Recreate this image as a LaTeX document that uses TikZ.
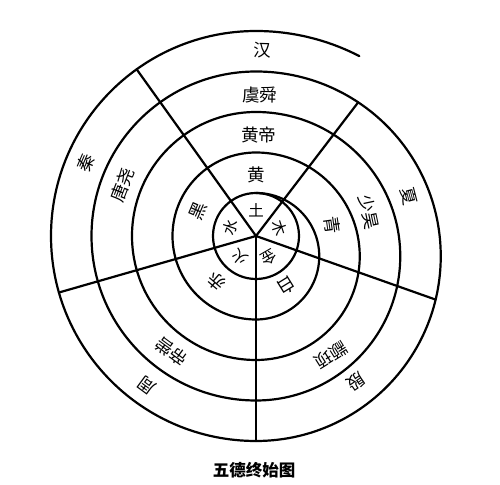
\documentclass[tikz,border=0pt]{standalone}
\usepackage{fontspec}
\newfontfamily\cjk{Noto Sans CJK SC}
\usetikzlibrary{calc}
\begin{document}
\begin{tikzpicture}[x=1pt,y=1pt,
  ring/.style={line width=2.2pt, line cap=round, line join=round},
  spoke/.style={line width=2.2pt, line cap=round},
  lab/.style={font=\cjk\fontsize{17.5}{17.5}\selectfont, inner sep=0pt},
  inlab/.style={font=\cjk\fontsize{15.5}{15.5}\selectfont, inner sep=0pt},
  captxt/.style={font=\cjk\bfseries\fontsize{16.5}{16.5}\selectfont, inner sep=0pt}]
\useasboundingbox (0,0) rectangle (500,484);
\fill[white] (0,0) rectangle (500,484);
\coordinate (O) at (256,248);
\coordinate (S) at (256,291);
% inner circle
\draw[ring] (O) circle[radius=43];
% two-centre spiral
\draw[ring] (S)
  arc[start angle=90,end angle=-90,radius=63.25]
  arc[start angle=270,end angle=90,radius=83.5]
  arc[start angle=90,end angle=-90,radius=103.75]
  arc[start angle=270,end angle=90,radius=124]
  arc[start angle=90,end angle=-90,radius=144.25]
  arc[start angle=270,end angle=90,radius=164.5]
  arc[start angle=90,end angle=-90,radius=184.75]
  arc[start angle=270,end angle=90,radius=205]
  arc[start angle=90,end angle=62.7,radius=225.25];
% spokes
\path (O) ++(52.6:168.2) coordinate (e1);
\path (O) ++(125.6:205) coordinate (e2);
\path (O) ++(196:205) coordinate (e3);
\path (O) ++(270:205) coordinate (e4);
\path (O) ++(-19.5:190.5) coordinate (e5);
\foreach \e in {e1,e2,e3,e4,e5} \draw[spoke] (O) -- (\e);
% inner ring: elements
\node[inlab,rotate=0]     (tu)   at ($(O)+(90:26)$) {土};
\node[inlab,rotate=-72]   (mu)   at ($(O)+(18:25)$) {木};
\node[inlab,rotate=-150]  (jin)  at ($(O)+(-60:25)$) {金};
\node[inlab,rotate=143]   (huo)  at ($(O)+(233:26.5)$) {火};
\node[inlab,rotate=71.5]  (shui) at ($(O)+(161.5:27)$) {水};
% colours
\node[lab,rotate=0]      (huang) at ($(O)+(90:61)$) {黄};
\node[lab,rotate=-82]    (qing)  at ($(O)+(8:77)$) {青};
\node[lab,rotate=-148.5] (bai)   at ($(O)+(-58.5:58)$) {白};
\node[lab,rotate=139.3]  (chi)   at ($(O)+(229.3:60.5)$) {赤};
\node[lab,rotate=67]     (hei)   at ($(O)+(157:63)$) {黑};
% spiral band
\node[lab,rotate=-1]     (hd)  at ($(O)+(88.5:101)$) {黄帝};
\node[lab,rotate=-78]    (sh)  at ($(O)+(12:115.5)$) {少昊};
\node[lab,rotate=-147.8] (zx)  at ($(O)+(-57.8:141)$) {颛顼};
\node[lab,rotate=143.9]  (dk)  at ($(O)+(233.9:143)$) {帝喾};
\node[lab,rotate=69]     (ty)  at ($(O)+(159:143)$) {唐尧};
\node[lab,rotate=-1]     (ys)  at ($(O)+(88.5:141)$) {虞舜};
\node[lab,rotate=-75.5]  (xia) at ($(O)+(14.5:157.5)$) {夏};
\node[lab,rotate=-145.5] (yin) at ($(O)+(-55.5:177)$) {殷};
\node[lab,rotate=143.7]  (zhou) at ($(O)+(233.7:185)$) {周};
\node[lab,rotate=66.8]   (qin) at ($(O)+(156.8:185)$) {秦};
\node[lab,rotate=-1.5]   (han) at ($(O)+(88:186)$) {汉};
% caption
\node[captxt] (title) at (254,14) {五德终始图};
\end{tikzpicture}
\end{document}
